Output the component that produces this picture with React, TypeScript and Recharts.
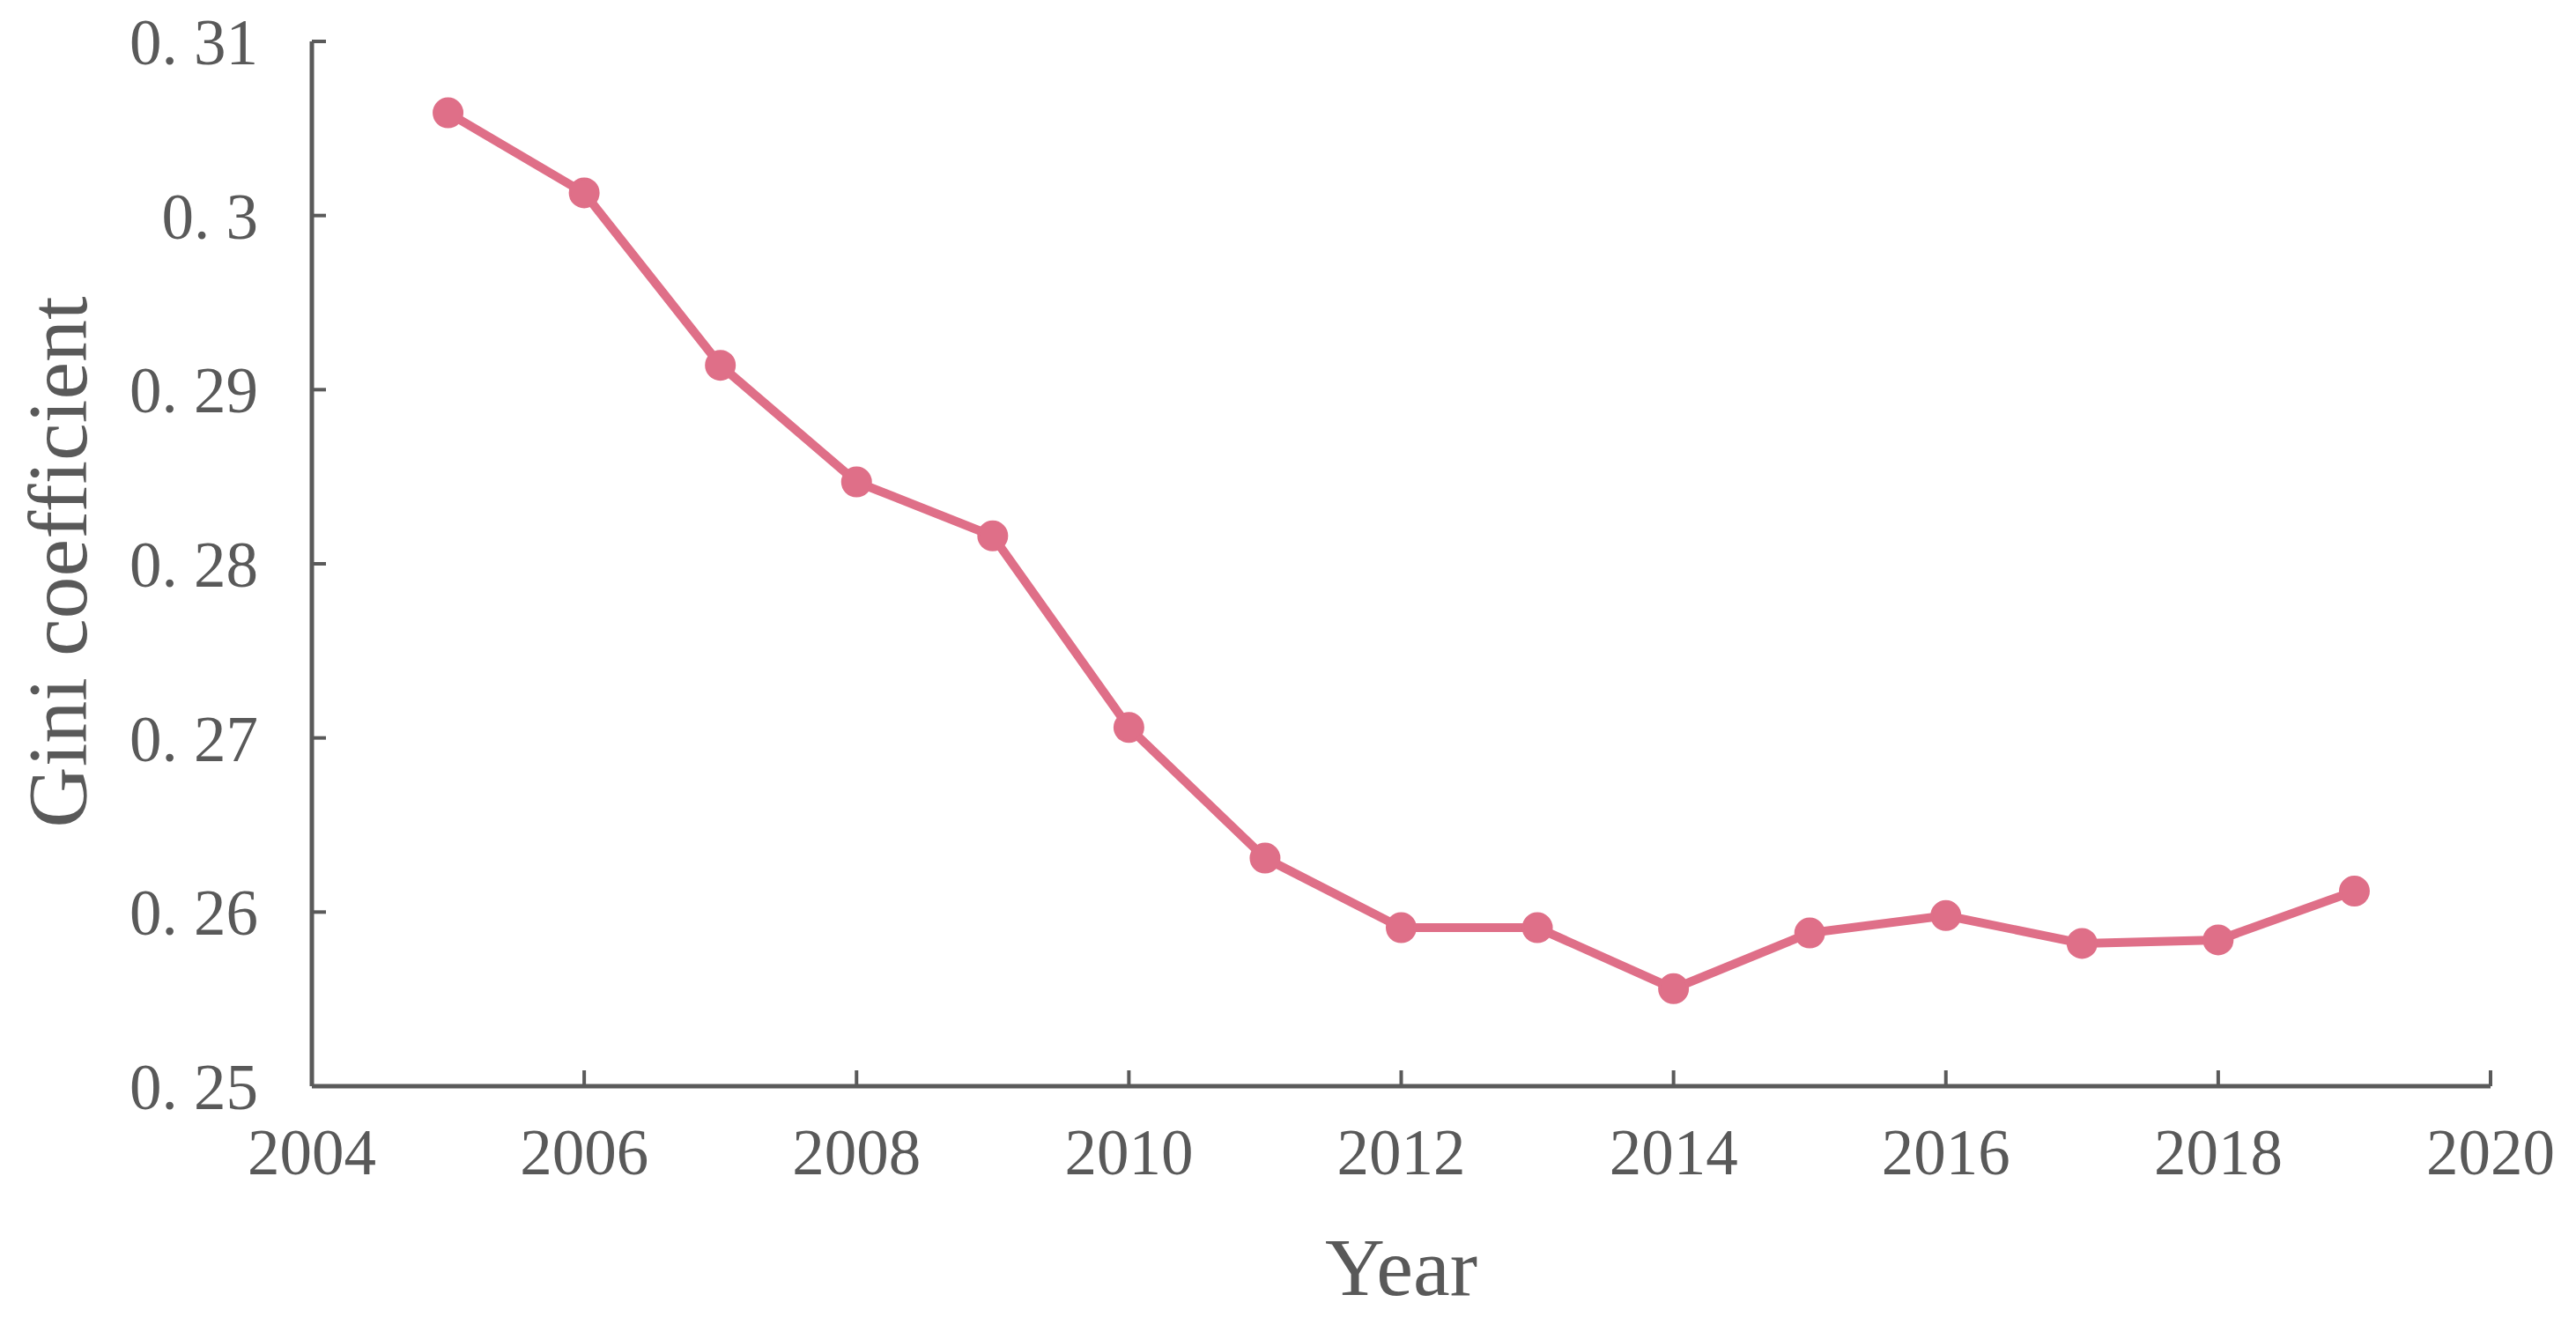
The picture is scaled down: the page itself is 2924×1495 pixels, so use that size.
import React from 'react';
import { LineChart, Line, XAxis, YAxis, Label } from 'recharts';

const years = [2005, 2006, 2007, 2008, 2009, 2010, 2011, 2012, 2013, 2014, 2015, 2016, 2017, 2018, 2019];
const gini = [0.3059, 0.3013, 0.2914, 0.2847, 0.2816, 0.2706, 0.2631, 0.2591, 0.2591, 0.2556, 0.2588, 0.2598, 0.2582, 0.2584, 0.2612];
const xTicks = [2004, 2006, 2008, 2010, 2012, 2014, 2016, 2018, 2020];
const yTicks = [0.25, 0.26, 0.27, 0.28, 0.29, 0.3, 0.31];

const data = years.map((y, i) => ({ year: y, gini: gini[i] }));

const FONT = '"Liberation Serif", "DejaVu Serif", serif';
const TEXT = '#595959';
const AXIS = '#5a5a5a';
const LINE = '#DF6F88';

const fmtY = (v: number) => String(+v.toFixed(2)).replace('.', '. ');

const YTitle = (props: any) => {
  const vb = props.viewBox || { x: 54, y: 47, width: 300, height: 1186 };
  const cx = vb.x + 11;
  const cy = vb.y + vb.height / 2 - 2;
  return (
    <text
      x={cx}
      y={cy}
      transform={`rotate(-90 ${cx} ${cy})`}
      textAnchor="middle"
      dominantBaseline="central"
      fill={TEXT}
      fontFamily={FONT}
      fontSize={96}
    >
      Gini coefficient
    </text>
  );
};

const XTitle = (props: any) => {
  const vb = props.viewBox || { x: 354, y: 1233, width: 2473, height: 262 };
  const cx = vb.x + vb.width / 2;
  const cy = vb.y + 237;
  return (
    <text x={cx} y={cy} textAnchor="middle" fill={TEXT} fontFamily={FONT} fontSize={94}>
      Year
    </text>
  );
};

export default function App() {
  return (
    <div style={{ position: 'absolute', left: 0, top: 0, background: '#fff' }}>
      <LineChart
        width={2924}
        height={1495}
        data={data}
        margin={{ top: 47, right: 97, bottom: 0, left: 54 }}
      >
        <XAxis
          dataKey="year"
          type="number"
          domain={[2004, 2020]}
          ticks={xTicks}
          interval={0}
          height={262}
          tickSize={-18}
          tickMargin={66}
          axisLine={{ stroke: AXIS, strokeWidth: 5 }}
          tickLine={{ stroke: AXIS, strokeWidth: 4 }}
          tick={{ fill: TEXT, fontFamily: FONT, fontSize: 73 }}
          label={<Label content={<XTitle />} />}
        />
        <YAxis
          type="number"
          domain={[0.25, 0.31]}
          ticks={yTicks}
          interval={0}
          width={300}
          tickSize={-16}
          tickMargin={77}
          tickFormatter={fmtY}
          axisLine={{ stroke: AXIS, strokeWidth: 5 }}
          tickLine={{ stroke: AXIS, strokeWidth: 4 }}
          tick={{ fill: TEXT, fontFamily: FONT, fontSize: 73 }}
          label={<Label content={<YTitle />} />}
        />
        <Line
          dataKey="gini"
          stroke={LINE}
          strokeWidth={10}
          dot={{ r: 16, fill: LINE, stroke: LINE, strokeWidth: 3 }}
          isAnimationActive={false}
        />
      </LineChart>
    </div>
  );
}
